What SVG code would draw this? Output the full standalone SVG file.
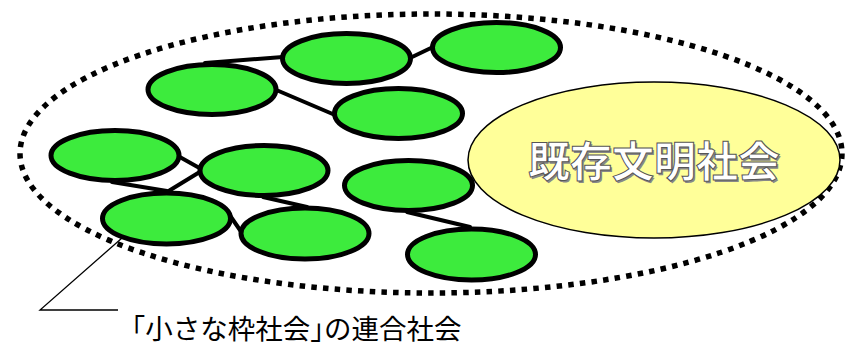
<svg xmlns="http://www.w3.org/2000/svg" width="854" height="344" viewBox="0 0 854 344">
  <style>
    .cell { fill: #3DEB3D; stroke: #000; stroke-width: 5; }
    .link { stroke: #000; stroke-width: 4; fill: none; stroke-linecap: round; }
    .title { font-family: "Noto Sans CJK JP", "Noto Sans", sans-serif; font-weight: bold; font-size: 42px; text-anchor: middle; }
    .caption { font-family: "Noto Sans CJK JP", "Noto Sans", sans-serif; font-size: 27.5px; fill: #000; font-feature-settings: "halt"; }
  </style>
  <rect width="854" height="344" fill="#fff"/>
  <g id="outer-boundary">
    <ellipse cx="431" cy="153.5" rx="411" ry="139.5" fill="none" stroke="#000" stroke-width="5.5" stroke-dasharray="5.5 6.2"/>
  </g>
  <g id="existing-society">
    <ellipse cx="654" cy="160" rx="186" ry="78" fill="#FFFF99" stroke="#000" stroke-width="1.5"/>
    <text class="title" x="655.5" y="178.5" fill="#888">既存文明社会</text>
    <text class="title" x="654" y="177" fill="#fff" stroke="#555" stroke-width="1">既存文明社会</text>
  </g>
  <g id="connectors">
    <line class="link" x1="205" y1="63" x2="283" y2="57"/>
    <line class="link" x1="410" y1="58" x2="433" y2="47"/>
    <line class="link" x1="274" y1="89" x2="335" y2="115"/>
    <line class="link" x1="178" y1="156" x2="203" y2="170"/>
    <line class="link" x1="112" y1="182" x2="167" y2="191"/>
    <line class="link" x1="167" y1="192" x2="203" y2="170"/>
    <line class="link" x1="263" y1="197" x2="307" y2="207"/>
    <line class="link" x1="231" y1="217" x2="242" y2="233"/>
    <line class="link" x1="407" y1="212" x2="470" y2="227"/>
  </g>
  <g id="node-1"><ellipse class="cell" cx="212" cy="89.5" rx="64" ry="25"/></g>
  <g id="node-2"><ellipse class="cell" cx="346.5" cy="58.5" rx="64" ry="25"/></g>
  <g id="node-3"><ellipse class="cell" cx="496.5" cy="47.5" rx="64" ry="25"/></g>
  <g id="node-4"><ellipse class="cell" cx="398.5" cy="113.5" rx="64" ry="25"/></g>
  <g id="node-5"><ellipse class="cell" cx="115" cy="155.5" rx="64" ry="25"/></g>
  <g id="node-6"><ellipse class="cell" cx="264" cy="170.5" rx="64" ry="25"/></g>
  <g id="node-7"><ellipse class="cell" cx="166.5" cy="218.5" rx="64" ry="25.5"/></g>
  <g id="node-8"><ellipse class="cell" cx="305" cy="233.5" rx="64" ry="25.5"/></g>
  <g id="node-9"><ellipse class="cell" cx="408.5" cy="185.5" rx="64" ry="25"/></g>
  <g id="node-10"><ellipse class="cell" cx="471.5" cy="254.5" rx="64" ry="25.5"/></g>
  <g id="caption">
    <polyline points="122,238 40,310 118,310" fill="none" stroke="#000" stroke-width="1.3"/>
    <text class="caption" x="131.5" y="339">「小さな枠社会」の連合社会</text>
  </g>
</svg>
